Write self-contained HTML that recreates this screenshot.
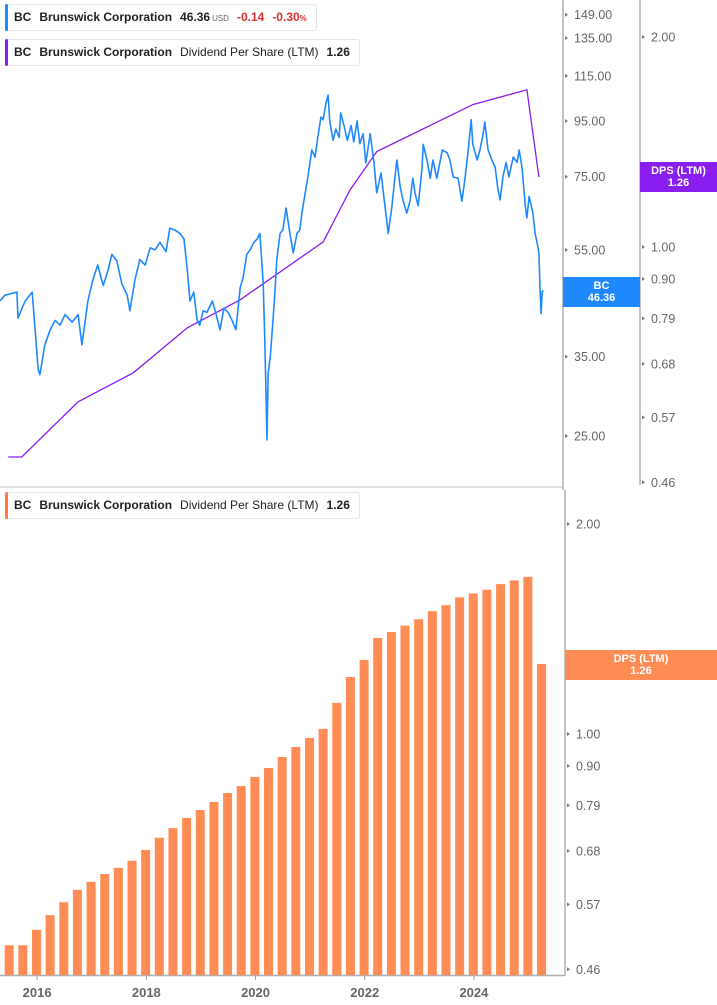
<!DOCTYPE html>
<html><head><meta charset="utf-8"><style>
html,body{margin:0;padding:0;background:#fff;}
body{width:717px;height:1005px;overflow:hidden;position:relative;font-family:"Liberation Sans",sans-serif;}
svg{position:absolute;left:0;top:0;}
.leg{position:absolute;left:5px;height:25px;border:1px solid #e6e6e6;border-radius:3px;background:#fff;font-size:12px;line-height:25px;color:#222;white-space:nowrap;padding-left:8px;padding-right:9px;}
.leg .bar{position:absolute;left:-1px;top:-1px;width:3px;height:27px;border-radius:2px;}
.leg b{font-weight:bold;margin-right:8px;}
.leg span{margin-right:8px;}
.red{color:#d8312b;font-weight:bold;}
.tag{position:absolute;color:#fff;font-weight:bold;font-size:11px;line-height:12px;text-align:center;padding-top:3px;box-sizing:border-box;}
</style></head><body>
<svg id="chart" width="717" height="1005"></svg>

<div class="leg" style="top:4px;"><div class="bar" style="background:#1e88ff"></div><b>BC</b><b>Brunswick Corporation</b><b style="margin-right:2px">46.36</b><span style="font-size:8px;color:#666">USD</span><span class="red">-0.14</span><span class="red" style="margin-right:0">-0.30<small style="font-size:8px">%</small></span></div>
<div class="leg" style="top:39px;"><div class="bar" style="background:#8a1df0"></div><b>BC</b><b>Brunswick Corporation</b><span>Dividend Per Share (LTM)</span><b style="margin-right:0">1.26</b></div>
<div class="leg" style="top:492px;"><div class="bar" style="background:#ff7a3d"></div><b>BC</b><b>Brunswick Corporation</b><span>Dividend Per Share (LTM)</span><b style="margin-right:0">1.26</b></div>

<div class="tag" style="left:563px;top:277px;width:77px;height:30px;background:#1e88ff">BC<br>46.36</div>
<div class="tag" style="left:640px;top:162px;width:77px;height:30px;background:#8a1df0">DPS (LTM)<br>1.26</div>
<div class="tag" style="left:565px;top:650px;width:152px;height:30px;background:#ff8c55">DPS (LTM)<br>1.26</div>

<script>
const priceDates=[2015.32,2015.41,2015.63,2015.65,2015.78,2015.91,2016.02,2016.05,2016.14,2016.24,2016.33,2016.42,2016.51,2016.64,2016.75,2016.82,2016.93,2017.02,2017.11,2017.21,2017.30,2017.37,2017.46,2017.55,2017.65,2017.70,2017.79,2017.88,2017.98,2018.07,2018.16,2018.25,2018.36,2018.43,2018.53,2018.62,2018.69,2018.75,2018.80,2018.87,2018.93,2018.98,2019.04,2019.11,2019.21,2019.28,2019.35,2019.42,2019.50,2019.57,2019.64,2019.72,2019.77,2019.84,2019.90,2019.97,2020.03,2020.08,2020.14,2020.17,2020.21,2020.23,2020.27,2020.32,2020.36,2020.39,2020.45,2020.50,2020.56,2020.63,2020.69,2020.76,2020.81,2020.85,2020.91,2020.96,2021.03,2021.09,2021.14,2021.20,2021.24,2021.29,2021.33,2021.36,2021.42,2021.47,2021.53,2021.56,2021.62,2021.68,2021.75,2021.80,2021.86,2021.91,2021.97,2022.02,2022.10,2022.17,2022.22,2022.30,2022.35,2022.43,2022.50,2022.55,2022.59,2022.65,2022.70,2022.77,2022.83,2022.88,2022.92,2022.98,2023.05,2023.07,2023.14,2023.20,2023.25,2023.32,2023.42,2023.51,2023.56,2023.62,2023.71,2023.78,2023.84,2023.89,2023.95,2023.98,2024.06,2024.11,2024.17,2024.20,2024.26,2024.33,2024.39,2024.44,2024.48,2024.53,2024.59,2024.64,2024.72,2024.79,2024.83,2024.88,2024.94,2024.97,2025.01,2025.08,2025.12,2025.16,2025.19,2025.21,2025.23,2025.25,2025.27];
const priceValues=[44.3,45.4,46,41.2,44.3,46,33.1,32.4,36.8,39.2,40.8,40,41.8,40.5,41.8,36.8,44.3,48.4,51.6,47.3,50.5,54,52.5,47.7,45.4,42.5,48.4,52.8,51.6,55.5,55,56.8,54.6,60.3,59.8,58.9,57.6,50.5,44.3,46,40.8,40,42.5,42.2,44.3,41.8,39.2,43,42.2,40.8,39.2,46.9,48.8,54,55,56.8,57.6,59,47.7,37.5,24.6,32.6,35,40.8,46.9,52.8,59,59.8,65.7,59,54.3,59,59.8,64.3,70,74.9,84,81.5,88.8,96.6,95.5,102.5,106,94.6,87.5,91.8,88.6,98.3,93.2,87.5,93.2,86.9,95,86.3,90,79.5,90,79.5,70,76.2,69,59,66.3,74.5,80.5,71.8,68,64.3,67.6,74.5,70,66.3,78.1,86,80.5,74.5,80.5,74.5,84,83,80.5,74.9,74.5,67.6,74.9,83,95.5,86,80.5,84,90,94.6,84,80.5,78,71,68,74.9,79.7,74.9,81.5,79.7,84,78,66.3,63,69,64.3,59,56.5,54.3,46.9,42,46,46.36];
const dpsLineDates=[2015.47,2015.72,2016.75,2017.76,2018.75,2019.72,2021.24,2021.73,2022.22,2023.98,2024.97,2025.19];
const dpsLineValues=[0.50,0.50,0.60,0.66,0.766,0.84,1.017,1.207,1.37,1.60,1.68,1.26];
const barStart=2015.238;
const barValues=[0.482,0.498,0.498,0.524,0.550,0.574,0.598,0.614,0.630,0.643,0.658,0.682,0.710,0.733,0.758,0.778,0.799,0.823,0.842,0.868,0.894,0.927,0.958,0.987,1.017,1.108,1.207,1.277,1.373,1.40,1.43,1.46,1.50,1.53,1.57,1.59,1.61,1.64,1.66,1.68,1.26];
const priceTicks=["149.00","135.00","115.00","95.00","75.00","55.00","35.00","25.00"];
const dpsTopTicks=["2.00","1.00","0.90","0.79","0.68","0.57","0.46"];
const dpsBotTicks=["2.00","1.00","0.90","0.79","0.68","0.57","0.46"];
const yearTicks=[2016,2018,2020,2022,2024];

const NS="http://www.w3.org/2000/svg";
const svg=document.getElementById('chart');
function mk(tag,attrs,parent){const e=document.createElementNS(NS,tag);for(const k in attrs)e.setAttribute(k,attrs[k]);(parent||svg).appendChild(e);return e;}
const xOf=t=>(t-2015.32)*54.6;
const yPrice=p=>436-236*Math.log(p/25);
const yDpsTop=d=>247-303*Math.log(d);
const yDpsBot=d=>734-303*Math.log(d);

let e;
e=mk('line',{x1:0,y1:487,x2:563,y2:487,stroke:'#e0e0e0','stroke-width':2});


e=mk('line',{x1:563,y1:0,x2:563,y2:490,stroke:'#b0b0b0','stroke-width':1.5});


e=mk('line',{x1:640,y1:0,x2:640,y2:485,stroke:'#b0b0b0','stroke-width':1.5});


e=mk('line',{x1:565,y1:490,x2:565,y2:976,stroke:'#b0b0b0','stroke-width':1.5});


e=mk('line',{x1:0,y1:975.5,x2:565,y2:975.5,stroke:'#b0b0b0','stroke-width':1.5});



function tick(x,y,label,name){
  const t=mk('path',{d:`M${x} ${y-2}L${x+3} ${y}L${x} ${y+2}Z`,fill:'#777'});
  
  
  const tx=mk('text',{x:x+9,y:y+4.5,'font-size':'12.5',fill:'#666','font-family':'Liberation Sans, sans-serif'});
  tx.textContent=label;
  
  
}
priceTicks.forEach(s=>tick(565,yPrice(parseFloat(s)),s,'price-tick-label'));
dpsTopTicks.forEach(s=>tick(642,yDpsTop(parseFloat(s)),s,'dps-top-tick-label'));
dpsBotTicks.forEach(s=>tick(567,yDpsBot(parseFloat(s)),s,'dps-bottom-tick-label'));
yearTicks.forEach(yr=>{
  const x=xOf(yr);
  const l=mk('line',{x1:x,y1:976,x2:x,y2:980,stroke:'#999'});
  
  
  const t=mk('text',{x:x,y:997,'text-anchor':'middle','font-size':'13','font-weight':'bold',fill:'#666','font-family':'Liberation Sans, sans-serif'});
  t.textContent=String(yr);
  
  
});

barValues.forEach((v,i)=>{
  const x=xOf(barStart+0.25*i);
  const y=yDpsBot(v);
  const r=mk('rect',{x:x-4.5,y:y,width:9,height:975-y,fill:'#ff8c55'});
  
  
});

let d=dpsLineDates.map((t,i)=>(i?'L':'M')+xOf(t).toFixed(1)+' '+yDpsTop(dpsLineValues[i]).toFixed(1)).join('');
e=mk('path',{d:d,fill:'none',stroke:'#8a1df0','stroke-width':1.3});



d=priceDates.map((t,i)=>(i?'L':'M')+xOf(t).toFixed(1)+' '+yPrice(priceValues[i]).toFixed(1)).join('');
e=mk('path',{d:d,fill:'none',stroke:'#1e88ff','stroke-width':1.6,'stroke-linejoin':'round'});


</script>
</body></html>
